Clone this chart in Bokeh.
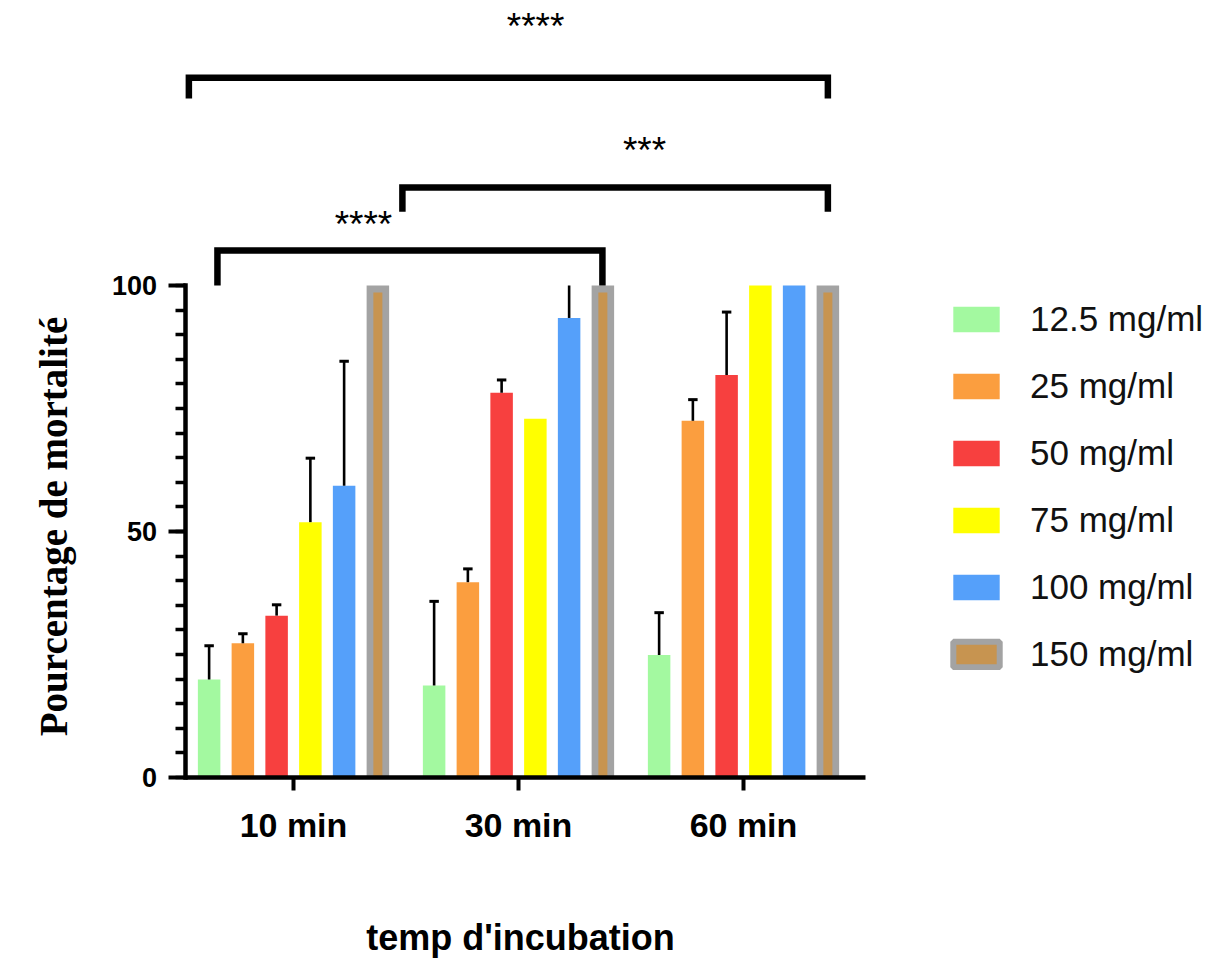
import math
from bokeh.plotting import figure
from bokeh.models import (ColumnDataSource, FixedTicker, Legend, LegendItem, Label, Range1d)
from bokeh.transform import dodge
from bokeh.core.properties import value
from bokeh.embed import file_html
from bokeh.resources import INLINE

# ---------------- data ----------------
categories = ["10 min", "30 min", "60 min"]
series = ["12.5 mg/ml", "25 mg/ml", "50 mg/ml", "75 mg/ml", "100 mg/ml", "150 mg/ml"]

m_12_5 = [19.9, 18.7, 24.9]
m_25 = [27.3, 39.7, 72.5]
m_50 = [32.9, 78.2, 81.8]
m_75 = [51.9, 72.9, 100.0]
m_100 = [59.3, 93.4, 100.0]
m_150 = [100.0, 100.0, 100.0]

sd_12_5 = [6.9, 17.1, 8.6]
sd_25 = [1.9, 2.7, 4.3]
sd_50 = [2.2, 2.6, 12.8]
sd_75 = [13.0, 0.0, 0.0]
sd_100 = [25.3, 8.0, 0.0]
sd_150 = [0.0, 0.0, 0.0]

y_ticks = [0, 50, 100]

# significance brackets (x in category units, y in %)
bracket_left = [-0.465, 0.484, -0.338]
bracket_right = [2.375, 2.375, 1.373]
bracket_top = [142.2, 119.9, 107.1]
bracket_foot = [138.0, 115.0, 100.0]
stars = ["****", "***", "****"]
star_x = [1.076, 1.56, 0.311]
star_y = [152.6, 127.5, 112.3]

# ---------------- styles ----------------
colors = ["#A3F9A0", "#FB9E3F", "#F7403F", "#FFFF00", "#55A0FA", "#A3A3A3"]
inner_color = "#C79450"
offsets = [-0.375, -0.225, -0.075, 0.075, 0.225, 0.375]
bar_w = 0.1
means = [m_12_5, m_25, m_50, m_75, m_100, m_150]
sds = [sd_12_5, sd_25, sd_50, sd_75, sd_100, sd_150]
YMAX = 100.0

W, H = 1211, 958
X0 = -1.3022                 # canvas left in category units (225 px per category)
Y0 = -36.79                  # canvas bottom in % units (4.92 px per %)
p = figure(width=W, height=H,
           x_range=Range1d(X0, X0 + W / 225.0), y_range=Range1d(Y0, Y0 + H / 4.92),
           output_backend="svg", toolbar_location=None,
           min_border_left=0, min_border_right=0, min_border_top=0, min_border_bottom=0)
p.outline_line_color = None
p.grid.visible = False
p.background_fill_color = "white"
p.border_fill_color = "white"

idx = list(range(len(categories)))
legend_renderers = []
for i in range(len(series)):
    src = ColumnDataSource(dict(x=idx, top=means[i]))
    r = p.vbar(x=dodge("x", offsets[i], range=p.x_range), top="top", bottom=0,
               width=bar_w, fill_color=colors[i], line_color=None, source=src)
    if i == len(series) - 1:
        inner = ColumnDataSource(dict(x=idx, top=[v - 1.4 for v in means[i]]))
        p.vbar(x=dodge("x", offsets[i], range=p.x_range), top="top", bottom=0,
               width=0.04, fill_color=inner_color, line_color=None, source=inner)
        lr = p.vbar(x=dodge("x", offsets[i], range=p.x_range), top="top", bottom=0,
                    width=0.04, fill_color=inner_color, line_color=colors[i],
                    line_width=6, source=inner, visible=False)
        legend_renderers.append(lr)
    else:
        legend_renderers.append(r)

    # upper error bars
    ex, ey0, ey1, cx, cy = [], [], [], [], []
    for j in idx:
        if sds[i][j] > 0:
            up = means[i][j] + sds[i][j]
            ex.append(j); ey0.append(means[i][j]); ey1.append(min(up, YMAX))
            if up <= YMAX:
                cx.append(j); cy.append(up)
    es = ColumnDataSource(dict(x=ex, y0=ey0, y1=ey1))
    p.segment(x0=dodge("x", offsets[i], range=p.x_range), x1=dodge("x", offsets[i], range=p.x_range),
              y0="y0", y1="y1", line_color="black", line_width=2.6, source=es)
    cs = ColumnDataSource(dict(x=cx, y=cy))
    p.segment(x0=dodge("x", offsets[i] - 0.021, range=p.x_range),
              x1=dodge("x", offsets[i] + 0.021, range=p.x_range),
              y0="y", y1="y", line_color="black", line_width=3, source=cs)

# brackets
bxs = [[a, a, b, b] for a, b in zip(bracket_left, bracket_right)]
bys = [[f, t, t, f] for t, f in zip(bracket_top, bracket_foot)]
p.multi_line(xs=bxs, ys=bys, line_color="black", line_width=6.5, line_join="miter", line_cap="butt")
p.text(x=star_x, y=star_y, text=stars, text_align="center", text_baseline="alphabetic",
       text_font=value("Liberation Sans"), text_font_size="37px", text_color="black")

# axes (drawn at fixed positions inside the canvas)
y_axis_x = -0.4778
x_axis_end = 2.542

yax = p.yaxis[0]
yax.fixed_location = y_axis_x
yax.bounds = (0, 100)
yax.ticker = FixedTicker(ticks=y_ticks, minor_ticks=list(range(0, 101, 5)))
yax.axis_line_width = 4.5
yax.axis_line_cap = "square"
yax.major_tick_line_width = 4
yax.minor_tick_line_width = 3.5
yax.major_tick_out = 17
yax.major_tick_in = 0
yax.minor_tick_out = 10
yax.minor_tick_in = 0
yax.major_label_text_font = "Liberation Sans"
yax.major_label_text_font_style = "bold"
yax.major_label_text_font_size = "27px"
yax.major_label_text_color = "black"
yax.major_label_standoff = 12

xax = p.xaxis[0]
xax.fixed_location = 0
xax.bounds = (y_axis_x, x_axis_end)
xax.ticker = FixedTicker(ticks=idx)
xax.major_label_overrides = {i: c for i, c in enumerate(categories)}
xax.minor_tick_line_color = None
xax.axis_line_width = 4.5
xax.major_tick_line_width = 4
xax.major_tick_out = 13
xax.major_tick_in = 0
xax.major_label_text_font = "Liberation Sans"
xax.major_label_text_font_style = "bold"
xax.major_label_text_font_size = "34px"
xax.major_label_text_color = "black"
xax.major_label_standoff = 16

# axis titles
p.add_layout(Label(x=53, y=H - 526, x_units="screen", y_units="screen",
                   text="Pourcentage de mortalité", angle=math.pi / 2,
                   text_align="center", text_baseline="middle",
                   text_font="Liberation Serif", text_font_style="bold",
                   text_font_size="39px", text_color="black"))
p.add_layout(Label(x=520, y=21, x_units="screen", y_units="screen",
                   text="temp d'incubation", text_align="center", text_baseline="alphabetic",
                   text_font="Liberation Sans", text_font_style="bold",
                   text_font_size="36px", text_color="black"))

# legend
items = [LegendItem(label=series[i], renderers=[legend_renderers[i]]) for i in range(len(series))]
legend = Legend(items=items, location=(947, 283.5), glyph_width=58, glyph_height=32,
                label_standoff=25, spacing=26, label_height=41, padding=0, margin=0,
                border_line_color=None, background_fill_alpha=0,
                label_text_font="Liberation Sans", label_text_font_size="35px",
                label_text_color="#111111")
p.add_layout(legend)

open("out.html", "w").write(file_html(p, INLINE))
